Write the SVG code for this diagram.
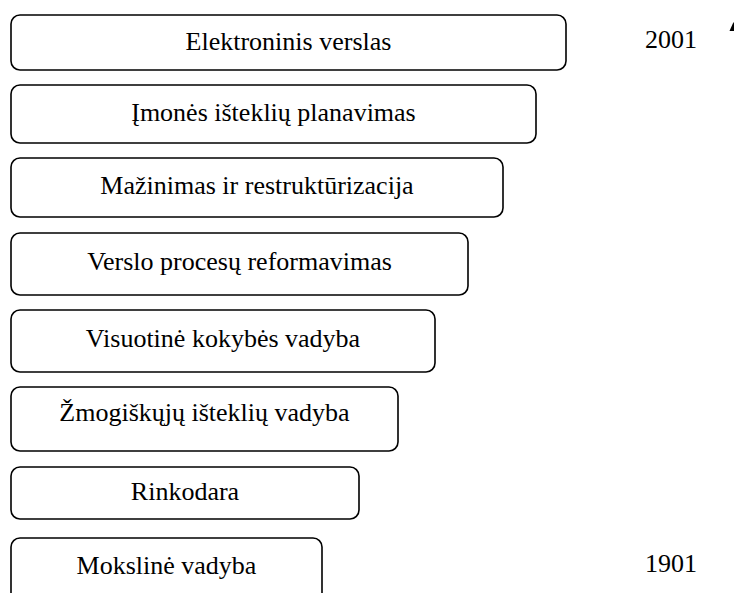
<svg xmlns="http://www.w3.org/2000/svg" width="734" height="593" viewBox="0 0 734 593">
  <style>
    .box { fill: #ffffff; stroke: #000000; stroke-width: 1.6; }
    .label { font-family: "Liberation Serif", "Times New Roman", serif; font-size: 26px; fill: #000000; text-anchor: middle; }
    .year { font-family: "Liberation Serif", "Times New Roman", serif; font-size: 26px; fill: #000000; }
  </style>
  <rect width="734" height="593" fill="#ffffff"/>

  <!-- management concepts, newest at the top -->
  <g id="elektroninis-verslas">
    <rect class="box" x="11" y="15" width="555" height="55" rx="9"/>
    <text class="label" x="288.5" y="50">Elektroninis verslas</text>
  </g>
  <g id="imones-istekliu-planavimas">
    <rect class="box" x="11" y="85" width="525" height="58" rx="9"/>
    <text class="label" x="273.5" y="121">Įmonės išteklių planavimas</text>
  </g>
  <g id="mazinimas-ir-restrukturizacija">
    <rect class="box" x="11" y="158" width="492" height="59" rx="9"/>
    <text class="label" x="257" y="194">Mažinimas ir restruktūrizacija</text>
  </g>
  <g id="verslo-procesu-reformavimas">
    <rect class="box" x="11" y="233" width="457" height="62" rx="9"/>
    <text class="label" x="239.5" y="270">Verslo procesų reformavimas</text>
  </g>
  <g id="visuotine-kokybes-vadyba">
    <rect class="box" x="11" y="310" width="424" height="62" rx="9"/>
    <text class="label" x="223" y="347">Visuotinė kokybės vadyba</text>
  </g>
  <g id="zmogiskuju-istekliu-vadyba">
    <rect class="box" x="11" y="387" width="387" height="64" rx="9"/>
    <text class="label" x="204.5" y="421">Žmogiškųjų išteklių vadyba</text>
  </g>
  <g id="rinkodara">
    <rect class="box" x="11" y="467" width="348" height="52" rx="9"/>
    <text class="label" x="185" y="500">Rinkodara</text>
  </g>
  <g id="mokslinė-vadyba">
    <rect class="box" x="11" y="538" width="311" height="70" rx="9"/>
    <text class="label" x="166.5" y="574">Mokslinė vadyba</text>
  </g>

  <!-- time axis labels and arrow tip -->
  <g id="timeline">
    <text class="year" x="645" y="48">2001</text>
    <text class="year" x="645" y="572">1901</text>
    <polygon points="733.5,22 729.5,31 737.5,31" fill="#000000"/>
  </g>
</svg>
